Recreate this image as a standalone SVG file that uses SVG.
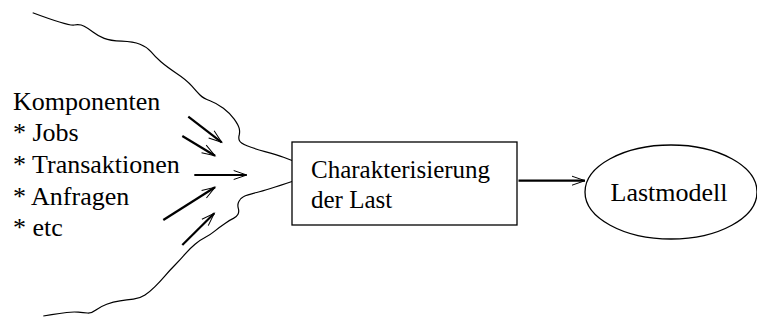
<svg xmlns="http://www.w3.org/2000/svg" width="757" height="326" viewBox="0 0 757 326">
  <style>
    .lbl { font-family: "Liberation Serif", "Times New Roman", serif; font-size: 26px; fill: #000; }
    .box-lbl { font-size: 25px; }
    .edge { fill: none; stroke: #000; stroke-width: 1.2; }
    .shaft { fill: none; stroke: #000; stroke-width: 2.2; marker-end: url(#open); }
    .shape { fill: #fff; stroke: #000; stroke-width: 1.3; }
  </style>
  <defs>
    <marker id="open" markerUnits="userSpaceOnUse" viewBox="-15 -6 17 12" refX="0" refY="0" markerWidth="17" markerHeight="12" orient="auto" overflow="visible">
      <path d="M-13,-4.5 L0,0 L-13,4.5" fill="none" stroke="#000" stroke-width="1"/>
    </marker>
  </defs>

  <!-- funnel outline narrowing into the box -->
  <g id="funnel">
    <path class="edge" d="M32.7,12.7 Q68.3,26 74.2,25 Q80,24 84.2,26.2 Q88.3,28.3 93.3,32.2 Q98.3,36 104.2,38.4 Q110,40.7 121.7,41.2 Q133.3,41.7 140,44.2 Q146.7,46.7 150.9,51.7 Q155,56.7 160.9,61.7 Q166.7,66.7 176.7,73.4 Q186.7,80 191.7,85.9 Q196.7,91.7 200,95 Q203.3,98.3 210,100.8 Q216.7,103.3 223.4,108.3 Q230,113.3 234.2,119.2 Q238.3,125 239.2,128.4 Q240,131.7 239.2,135 Q238.3,138.3 239.5,140.8 Q240.7,143.3 247,145.8 Q253.3,148.3 265,151.7 Q276.7,155 284.2,157.5 L292,160.5"/>
    <path class="edge" d="M292,181.5 Q266.7,190 256.7,192.5 Q246.7,195 243.4,196.7 Q240,198.3 238.7,201.7 Q237.3,205 238.3,208.4 Q239.3,211.7 238,214.2 Q236.7,216.7 233.4,218.4 Q230,220 225,223.4 Q220,226.7 215,230.9 Q210,235 205,237.5 Q200,240 195,244.2 Q190,248.3 185,254.2 Q180,260 175,265 Q170,270 165,275.9 Q160,281.7 155,286.7 Q150,291.7 145,295 Q140,298.3 133.4,299.2 Q126.7,300 120,300.9 Q113.3,301.7 106.7,304.2 Q100,306.7 95.9,310 Q91.7,313.3 87.5,313 Q83.3,312.7 78.3,312.2 Q73.3,311.7 66.7,312.5 Q60,313.3 51.7,314.7 L43.3,316"/>
  </g>

  <!-- component list -->
  <g id="components">
    <text class="lbl" x="13" y="110">Komponenten</text>
    <text class="lbl" x="13" y="141">* Jobs</text>
    <text class="lbl" x="13" y="173">* Transaktionen</text>
    <text class="lbl" x="13" y="205">* Anfragen</text>
    <text class="lbl" x="13" y="236">* etc</text>
  </g>

  <g id="characterization">
    <rect class="shape" x="292" y="142" width="225" height="83"/>
    <text class="lbl box-lbl" x="311" y="178">Charakterisierung</text>
    <text class="lbl box-lbl" x="311" y="208">der Last</text>
  </g>

  <g id="loadmodel">
    <ellipse class="shape" cx="671" cy="192" rx="86" ry="47"/>
    <text class="lbl" x="669" y="201" text-anchor="middle">Lastmodell</text>
  </g>

  <g id="connectors">
    <line class="shaft" x1="188.3" y1="116.7" x2="221.7" y2="142.3"/>
    <line class="shaft" x1="182.3" y1="136" x2="215" y2="155.7"/>
    <line class="shaft" x1="194.3" y1="175" x2="246.7" y2="175"/>
    <line class="shaft" x1="163.3" y1="220" x2="215" y2="187.3"/>
    <line class="shaft" x1="182.3" y1="245" x2="214.3" y2="213.3"/>
    <line class="shaft" x1="518.5" y1="180.7" x2="585" y2="180.7"/>
  </g>
</svg>
